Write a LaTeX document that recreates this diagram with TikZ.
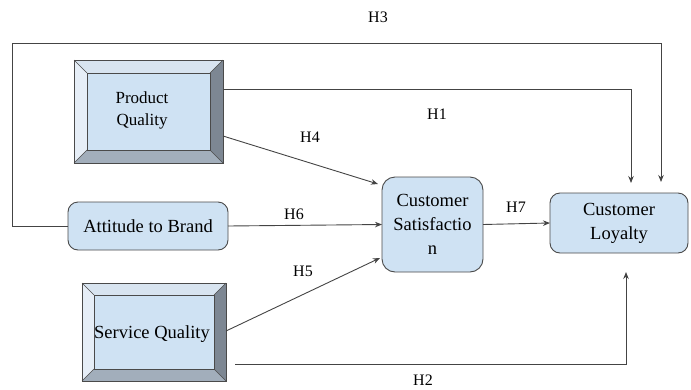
\documentclass[tikz,border=0pt]{standalone}
\usepackage{fontspec}
\setmainfont{Liberation Serif}
\usetikzlibrary{calc,arrows.meta}
\definecolor{boxfill}{HTML}{CFE2F3}
\definecolor{bevtop}{HTML}{D8E4F0}
\definecolor{bevleft}{HTML}{E6EEF7}
\definecolor{bevright}{HTML}{7D8793}
\definecolor{bevbot}{HTML}{A2AEBB}
\definecolor{edge}{HTML}{4A4A4A}
\definecolor{linec}{HTML}{444444}
\newcommand\mybevel[2]{%
  \fill[bevtop] (#1.north west) -- (#1.north east) -- ($(#1.north east)+(-#2,#2)$) -- ($(#1.north west)+(#2,#2)$) -- cycle;
  \fill[bevleft] (#1.north west) -- ($(#1.north west)+(#2,#2)$) -- ($(#1.south west)+(#2,-#2)$) -- (#1.south west) -- cycle;
  \fill[bevright] (#1.north east) -- (#1.south east) -- ($(#1.south east)+(-#2,-#2)$) -- ($(#1.north east)+(-#2,#2)$) -- cycle;
  \fill[bevbot] (#1.south west) -- (#1.south east) -- ($(#1.south east)+(-#2,-#2)$) -- ($(#1.south west)+(#2,-#2)$) -- cycle;
  \fill[boxfill] ($(#1.north west)+(#2,#2)$) rectangle ($(#1.south east)+(-#2,-#2)$);
  \draw[edge,line width=0.6pt] ($(#1.north west)+(#2,#2)$) rectangle ($(#1.south east)+(-#2,-#2)$);
  \draw[edge,line width=0.5pt] (#1.north west) -- ($(#1.north west)+(#2,#2)$)
     (#1.north east) -- ($(#1.north east)+(-#2,#2)$)
     (#1.south west) -- ($(#1.south west)+(#2,-#2)$)
     (#1.south east) -- ($(#1.south east)+(-#2,-#2)$);
  \draw[edge,line width=0.9pt] (#1.north west) rectangle (#1.south east);
}
\begin{document}
\begin{tikzpicture}[x=1pt,y=-1pt,
  bevelnode/.style={inner sep=0pt,outer sep=0pt,align=center,font=\fontsize{17}{22}\selectfont},
  roundbox/.style={draw=edge,line width=0.9pt,fill=boxfill,rounded corners=#1,inner sep=0pt,outer sep=0pt,align=center,font=\fontsize{18.5}{24}\selectfont},
  conn/.style={linec,line width=0.9pt},
  arr/.style={conn,-{Stealth[length=7pt,width=5.5pt]}},
  hlab/.style={font=\fontsize{16}{18}\selectfont,inner sep=0pt}]
\useasboundingbox (0,0) rectangle (691,389);

% bevel boxes (background first)
\node[bevelnode,minimum width=149pt,minimum height=103pt] (pq) at (148.5,111.5) {};
\mybevel{pq}{13}
\node[bevelnode] (pqt) at (142,110) {Product\\Quality};

\node[bevelnode,minimum width=144pt,minimum height=98pt] (sq) at (154,332) {};
\mybevel{sq}{12}
\node[bevelnode,font=\fontsize{18.5}{22}\selectfont] (sqt) at (152,334) {Service Quality};

% rounded boxes
\node[roundbox=10pt,minimum width=160pt,minimum height=48pt] (att) at (148,226) {Attitude to Brand};
\node[roundbox=13pt,minimum width=101pt,minimum height=95pt] (sat) at (432.5,224.5) {Customer\\Satisfactio\\n};
\node[roundbox=10pt,minimum width=138pt,minimum height=60pt] (loy) at (619,223) {Customer\\Loyalty};

% coordinates
\coordinate (h1s) at ($(pq.north east)+(0,29)$);
\coordinate (h1c) at (631,89);
\coordinate (h1e) at (631,183);
\coordinate (h4s) at ($(pq.north east)+(0,76)$);
\coordinate (h4e) at (378,184);
\coordinate (h5s) at (226,331);
\coordinate (h5e) at (380,258);
\coordinate (h2s) at (235,364);
\coordinate (h2c) at (626,364);
\coordinate (h2e) at (626,272);
\coordinate (h3a) at (12,226);
\coordinate (h3b) at (12,43);
\coordinate (h3c) at (661,43);
\coordinate (h3e) at (661,182);

% connectors
\draw[arr] (h1s) -- (h1c) -- (h1e);
\draw[arr] (h4s) -- (h4e);
\draw[arr] (att.east) -- (sat.west);
\draw[arr] (h5s) -- (h5e);
\draw[arr] (sat.east) -- (loy.west);
\draw[arr] (h2s) -- (h2c) -- (h2e);
\draw[arr] (att.west) -- (h3a) -- (h3b) -- (h3c) -- (h3e);

% labels
\node[hlab] (l3) at (378,17) {H3};
\node[hlab] (l1) at (437,114) {H1};
\node[hlab] (l4) at (310,137) {H4};
\node[hlab] (l6) at (294,214) {H6};
\node[hlab] (l7) at (516,207) {H7};
\node[hlab] (l5) at (303,271) {H5};
\node[hlab] (l2) at (423,380) {H2};
\end{tikzpicture}
\end{document}
